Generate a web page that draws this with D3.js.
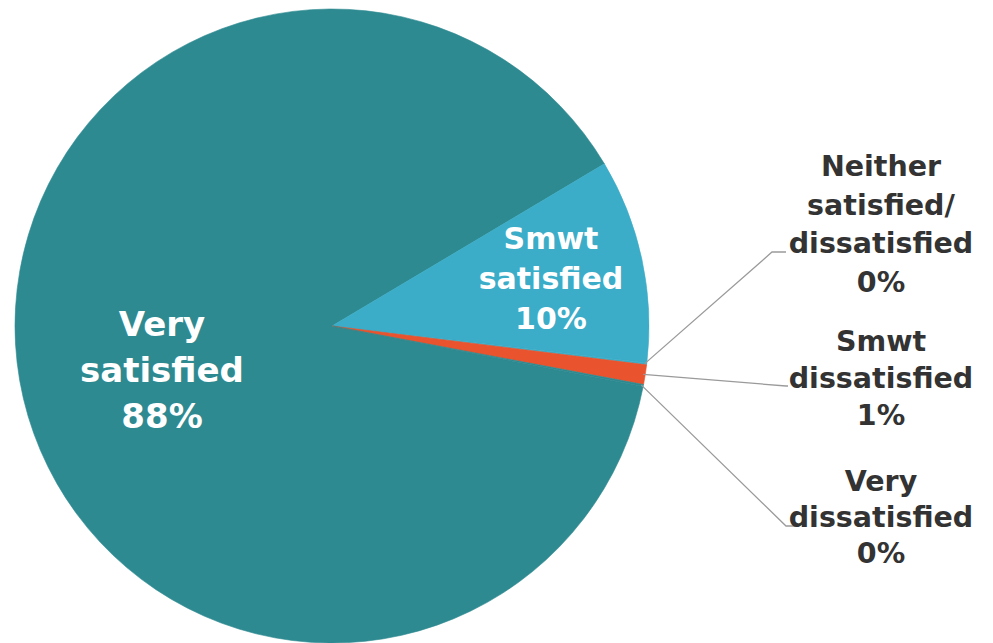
<!DOCTYPE html>
<html>
<head>
<meta charset="utf-8">
<script src="https://cdn.jsdelivr.net/npm/d3@7"></script>
<style>
  html, body { margin: 0; padding: 0; background: #fff; }
  svg { display: block; }
</style>
</head>
<body>
<svg id="svg" width="993" height="643"></svg>
<script>
const WIDTH = 993
const HEIGHT = 643
const CX = 332
const CY = 326
const RADIUS = 317

// categories and values
const categories = [
  ['Very', 'satisfied'],
  ['Smwt', 'satisfied'],
  ['Neither', 'satisfied/', 'dissatisfied'],
  ['Smwt', 'dissatisfied'],
  ['Very', 'dissatisfied']
]
const values = [88.4, 10.4, 0.1, 1.0, 0.1]
const colors = ['#2e8a91', '#3badc8', '#3badc8', '#e9532e', '#2e8a91']

const PIE = d3.pie()
  .sort(null)
  .startAngle(101 * Math.PI / 180)
  .endAngle(461 * Math.PI / 180)
const ARC_DATA = PIE(values)
const ARC_GEN = d3.arc()
  .innerRadius(0)
  .outerRadius(RADIUS)

const SVG = d3.select('#svg')
const PIE_GROUP = SVG
  .append('g')
  .attr('transform', `translate(${CX}, ${CY})`)

PIE_GROUP
  .selectAll('path')
  .data(ARC_DATA)
  .enter()
  .append('path')
  .attr('d', ARC_GEN)
  .attr('fill', (d, i) => colors[i])
  .attr('stroke', (d, i) => colors[i])
  .attr('stroke-width', 0.6)

const pct = v => `${Math.round(v)}%`

// labels inside the two big slices
const inside = [
  { i: 0, x: 162 - CX, y: 336 - CY, size: 34, lh: 46 },
  { i: 1, x: 551 - CX, y: 249 - CY, size: 30, lh: 40 }
]
inside.forEach(l => {
  const lines = categories[l.i].concat([pct(values[l.i])])
  PIE_GROUP.append('text')
    .attr('text-anchor', 'middle')
    .attr('font-family', '"DejaVu Sans", Verdana, sans-serif')
    .attr('font-weight', 'bold')
    .attr('font-size', l.size)
    .attr('fill', '#fff')
    .selectAll('tspan')
    .data(lines)
    .enter()
    .append('tspan')
    .attr('x', l.x)
    .attr('y', (d, k) => l.y + k * l.lh)
    .text(d => d)
})

// outside labels with leader lines
const outside = [
  { i: 2, x: 881, y: 176, lh: 38.5, elbow: [772, 252], end: 786 },
  { i: 3, x: 881, y: 351, lh: 37, elbow: [786, 386], end: 788 },
  { i: 4, x: 881, y: 491, lh: 36, elbow: [786, 526], end: 797 }
]
outside.forEach(l => {
  const d = ARC_DATA[l.i]
  const a = (d.startAngle + d.endAngle) / 2
  const p = [Math.sin(a) * (RADIUS - 2) + CX, -Math.cos(a) * (RADIUS - 2) + CY]
  SVG.append('polyline')
    .attr('points', [p, l.elbow, [l.end, l.elbow[1]]].map(q => q.join(',')).join(' '))
    .attr('fill', 'none')
    .attr('stroke', '#9a9a9a')
    .attr('stroke-width', 1.3)

  const lines = categories[l.i].concat([pct(values[l.i])])
  SVG.append('text')
    .attr('text-anchor', 'middle')
    .attr('font-family', '"DejaVu Sans", Verdana, sans-serif')
    .attr('font-weight', 'bold')
    .attr('font-size', 28.5)
    .attr('fill', '#333')
    .selectAll('tspan')
    .data(lines)
    .enter()
    .append('tspan')
    .attr('x', l.x)
    .attr('y', (t, k) => l.y + k * l.lh)
    .text(t => t)
})
</script>
</body>
</html>
